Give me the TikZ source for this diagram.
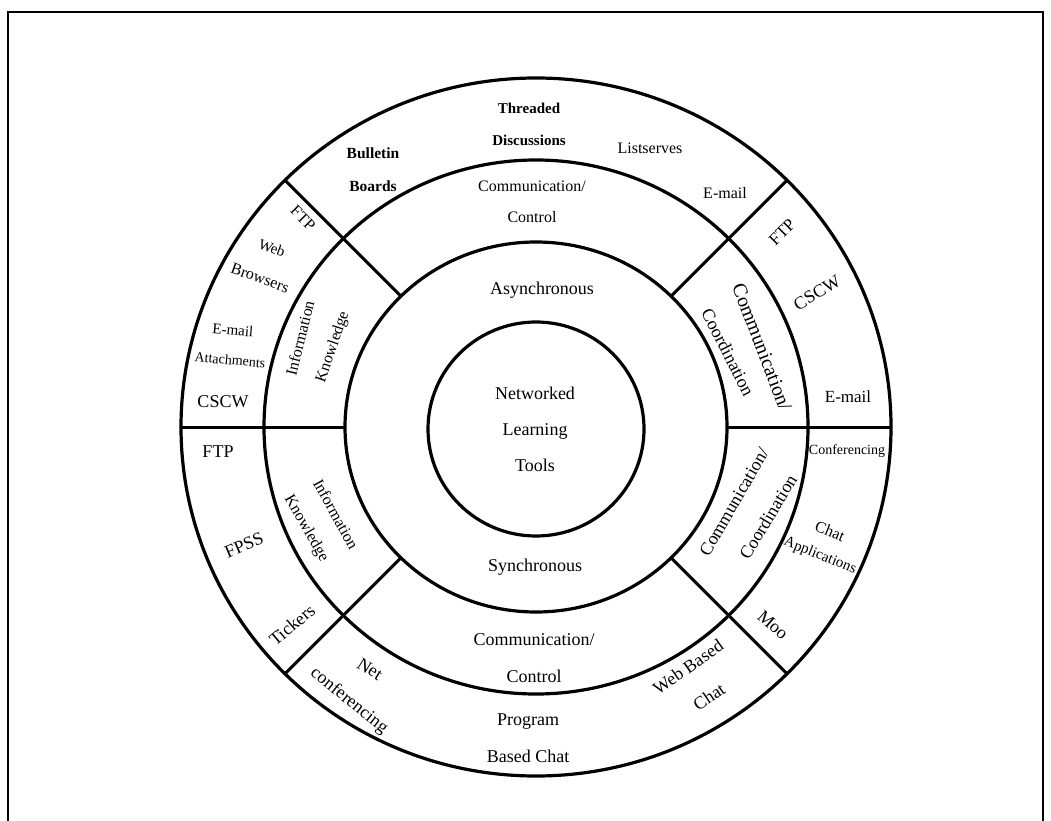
\documentclass[tikz,border=0pt]{standalone}
\usepackage{fontspec}
\setmainfont{Liberation Serif}
\newcommand{\fsz}[2]{\fontsize{#1}{#2}\selectfont}
\begin{document}
\begin{tikzpicture}[x=1pt,y=-1pt,
  ring/.style={line width=3.2pt},
  divider/.style={line width=3pt},
  frame/.style={line width=2pt},
  txt/.style={inner sep=0pt, align=center}]
\useasboundingbox (0,0) rectangle (1051,821);

% outer frame
\draw[frame] (8,821) -- (8,12) -- (1043,12) -- (1043,821);

% concentric rings
\coordinate (c) at (536,427);
\coordinate (ci) at (536,429);
\draw[ring] (c) ellipse [x radius=355pt, y radius=349pt];
\draw[ring] (c) ellipse [x radius=272pt, y radius=267pt];
\draw[ring] (c) ellipse [x radius=191pt, y radius=185pt];
\draw[ring] (ci) ellipse [x radius=108pt, y radius=107pt];

% radial dividers between the sectors
\foreach \a in {0,45,135,180,225,315} {
  \path (c) +(\a:191pt and 185pt) coordinate (in\a)
            +(\a:355pt and 349pt) coordinate (out\a);
  \draw[divider] (in\a) -- (out\a);
}

% core
\node[txt, font=\fsz{18}{36}] (core) at (535,429) {Networked\\Learning\\Tools};
\node[txt, font=\fsz{18}{22}] (async) at (542,290) {Asynchronous};
\node[txt, font=\fsz{18}{22}] (sync) at (535,567) {Synchronous};

% upper sector
\node[txt, font=\fsz{16}{31}] (ccTop) at (532,202) {Communication/\\Control};
\node[txt, font=\fsz{15}{32}\bfseries] (threaded) at (529,124) {Threaded\\Discussions};
\node[txt, font=\fsz{15.5}{33}\bfseries] (bulletin) at (373,170) {Bulletin\\Boards};
\node[txt, font=\fsz{16}{20}] (listserv) at (650,148) {Listserves};
\node[txt, font=\fsz{16}{20}] (emailTop) at (725,193) {E-mail};

% upper left sector
\node[txt, font=\fsz{16}{20}, rotate=76] (infoUL) at (300,338) {Information};
\node[txt, font=\fsz{16}{20}, rotate=71] (knowUL) at (333,347) {Knowledge};
\node[txt, font=\fsz{16}{20}, rotate=-45] (ftpUL) at (303,218) {FTP};
\node[txt, font=\fsz{15}{20}, rotate=-20] (webUL) at (272,248) {Web};
\node[txt, font=\fsz{16}{20}, rotate=-20] (browsUL) at (260,278) {Browsers};
\node[txt, font=\fsz{15}{20}, rotate=-5] (emailUL) at (233,330) {E-mail};
\node[txt, font=\fsz{14}{20}, rotate=-5] (attachUL) at (230,360) {Attachments};
\node[txt, font=\fsz{18}{20}] (cscwUL) at (223,402) {CSCW};

% upper right sector
\node[txt, font=\fsz{20}{22}, rotate=-69] (commUR) at (762,347) {Communication/};
\node[txt, font=\fsz{18}{22}, rotate=-63] (coordUR) at (728,352) {Coordination};
\node[txt, font=\fsz{17}{20}, rotate=45] (ftpUR) at (782,232) {FTP};
\node[txt, font=\fsz{18}{20}, rotate=31] (cscwUR) at (817,293) {CSCW};
\node[txt, font=\fsz{17}{20}] (emailUR) at (848,397) {E-mail};

% lower right sector
\node[txt, font=\fsz{18}{22}, rotate=60] (commLR) at (734,502) {Communication/};
\node[txt, font=\fsz{18}{22}, rotate=59] (coordLR) at (768,517) {Coordination};
\node[txt, font=\fsz{14}{18}] (confLR) at (847,451) {Conferencing};
\node[txt, font=\fsz{16}{20}, rotate=-22] (chatLR) at (830,531) {Chat};
\node[txt, font=\fsz{15}{20}, rotate=-22] (applLR) at (820,556) {Applications};
\node[txt, font=\fsz{18}{20}, rotate=-41] (mooLR) at (773,625) {Moo};

% lower sector
\node[txt, font=\fsz{18}{37}] (ccBot) at (534,658) {Communication/\\Control};
\node[txt, font=\fsz{18}{37}] (program) at (528,738) {Program\\Based Chat};
\node[txt, font=\fsz{18}{20}, rotate=35] (webBased) at (688,667) {Web Based};
\node[txt, font=\fsz{18}{20}, rotate=34] (chatBot) at (709,697) {Chat};
\node[txt, font=\fsz{18}{20}, rotate=-32] (net) at (370,669) {Net};
\node[txt, font=\fsz{18}{20}, rotate=-39] (netconf) at (349,701) {conferencing};

% lower left sector
\node[txt, font=\fsz{16}{20}, rotate=-61] (infoLL) at (336,514) {Information};
\node[txt, font=\fsz{16}{20}, rotate=-60] (knowLL) at (306,529) {Knowledge};
\node[txt, font=\fsz{18}{20}] (ftpLL) at (218,452) {FTP};
\node[txt, font=\fsz{18}{20}, rotate=23] (fpss) at (244,545) {FPSS};
\node[txt, font=\fsz{18}{20}, rotate=40] (tickers) at (292,625) {Tickers};
\end{tikzpicture}
\end{document}
